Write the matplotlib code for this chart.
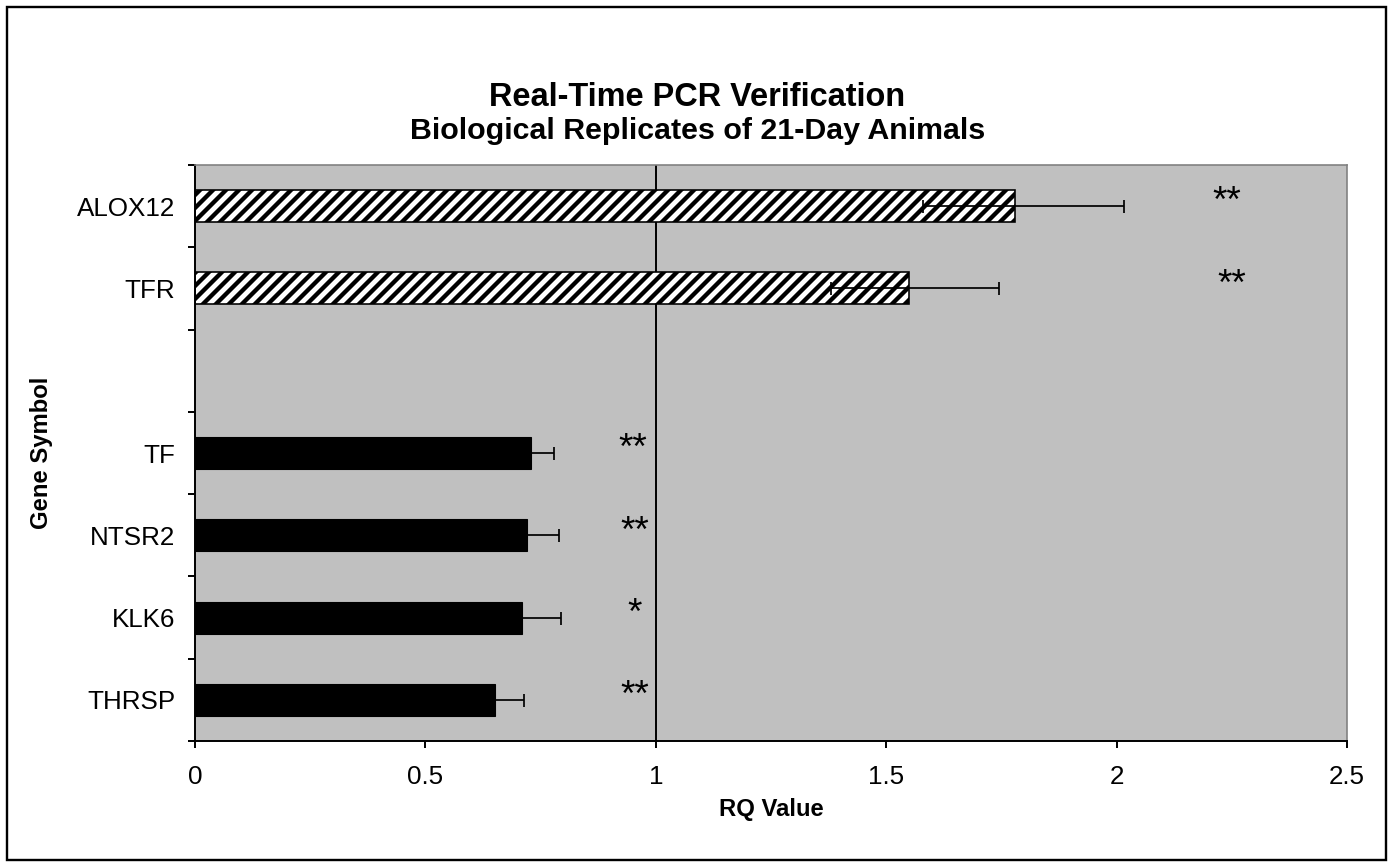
import numpy as np
import matplotlib
matplotlib.use("Agg")
import matplotlib.pyplot as plt
from matplotlib.patches import Rectangle

plt.rcParams['font.family'] = ['Liberation Sans', 'DejaVu Sans']
plt.rcParams['hatch.linewidth'] = 4.0

# RQ values per gene, top to bottom (blank row separates up/down regulated)
genes = ["ALOX12", "TFR", "", "TF", "NTSR2", "KLK6", "THRSP"]
rq = [1.78, 1.55, np.nan, 0.73, 0.72, 0.71, 0.65]
err_low = [0.20, 0.17, 0.0, 0.05, 0.07, 0.085, 0.06]
err_high = [0.235, 0.195, 0.0, 0.05, 0.07, 0.085, 0.065]
stars = ["**", "**", "", "**", "**", "*", "**"]
star_x = [2.24, 2.25, np.nan, 0.95, 0.955, 0.955, 0.955]
upregulated = [True, True, False, False, False, False, False]

DPI = 78
fig = plt.figure(figsize=(1395 / DPI, 867 / DPI), dpi=DPI)
ax = fig.add_axes([195 / 1395, 1 - 741 / 867, (1347 - 195) / 1395, (741 - 165) / 867])
ax.set_facecolor('#C0C0C0')

pos = np.arange(len(genes))
for i in pos:
    if np.isnan(rq[i]):
        continue
    if upregulated[i]:
        ax.barh(i, rq[i], height=0.39, color='white', edgecolor='black',
                hatch='//', linewidth=1.5, zorder=2)
    else:
        ax.barh(i, rq[i], height=0.39, color='black', edgecolor='black', zorder=2)
    ax.errorbar(rq[i], i, xerr=[[err_low[i]], [err_high[i]]], fmt='none',
                ecolor='black', elinewidth=1.6, capsize=6, capthick=1.6, zorder=3)
    ax.text(star_x[i], i - 0.04, stars[i], ha='center', va='center',
            fontsize=34, zorder=4)

ax.axvline(1, color='black', linewidth=1.8, zorder=1.5)

ax.set_xlim(0, 2.5)
ax.set_ylim(len(genes) - 0.5, -0.5)
ax.set_xticks([0, 0.5, 1, 1.5, 2, 2.5])
ax.set_xticklabels(['0', '0.5', '1', '1.5', '2', '2.5'])
ax.set_yticks(np.arange(-0.5, len(genes), 1.0))
ax.set_yticklabels([])
ax.set_yticks(pos, minor=True)
ax.set_yticklabels(genes, minor=True)
ax.tick_params(axis='both', which='major', direction='out', length=6.5, width=1.8,
               labelsize=24)
ax.tick_params(axis='y', which='minor', length=0, pad=18, labelsize=24)
ax.tick_params(axis='x', which='major', pad=16)

for side in ('left', 'bottom'):
    ax.spines[side].set_color('black')
    ax.spines[side].set_linewidth(1.8)
for side in ('top', 'right'):
    ax.spines[side].set_color('#808080')
    ax.spines[side].set_linewidth(1.5)

ax.set_xlabel('RQ Value', fontsize=22, fontweight='bold', labelpad=8)
ax.set_ylabel('Gene Symbol', fontsize=22, fontweight='bold', labelpad=22)

fig.text(0.5, 1 - 98 / 867, 'Real-Time PCR Verification', ha='center', va='center',
         fontsize=30, fontweight='bold')
fig.text(0.5, 1 - 131 / 867, 'Biological Replicates of 21-Day Animals', ha='center',
         va='center', fontsize=28, fontweight='bold')

fig.patches.append(Rectangle((7 / 1395, 1 - 860 / 867), 1379 / 1395, 853 / 867,
                             transform=fig.transFigure, fill=False,
                             edgecolor='black', linewidth=2.2))

fig.savefig('out.png', dpi=DPI)
